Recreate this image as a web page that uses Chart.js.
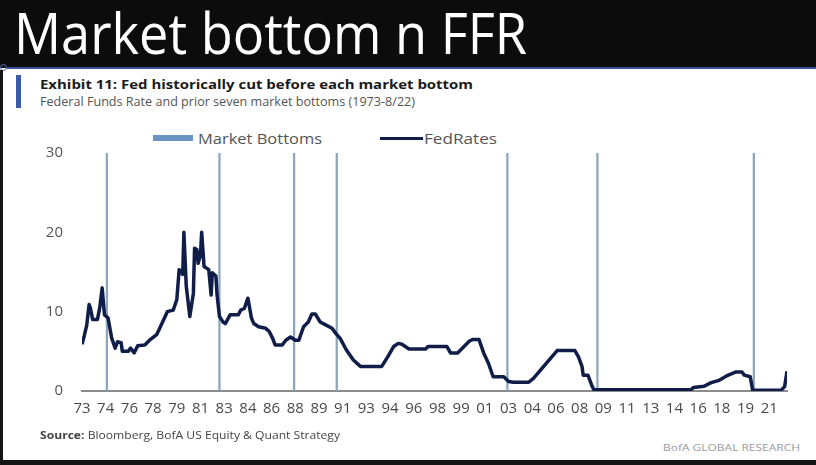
<!DOCTYPE html>
<html><head><meta charset="utf-8">
<script src="https://cdn.jsdelivr.net/npm/chart.js@4.4.1/dist/chart.umd.min.js"></script>
<style>
html,body{margin:0;padding:0;width:816px;height:465px;overflow:hidden;background:#fff;font-family:"Open Sans",sans-serif;}
.abs{position:absolute;white-space:nowrap;}
#header{left:0;top:0;width:816px;height:68px;background:#0c0c0c;}
#title{left:14px;top:-6px;color:#fff;font-size:57px;line-height:76px;transform-origin:0 0;}
#rule{left:6px;top:67px;width:810px;height:2px;background:#3b4f9e;}
#dot{left:0px;top:64px;width:5px;height:5px;border:1px solid #5a6cb0;border-radius:50%;}
#lborder{left:0;top:70px;width:3px;height:392px;background:#151515;}
#bborder{left:0;top:460px;width:816px;height:5px;background:#151515;}
#exbar{left:16px;top:75px;width:5px;height:33px;background:#3d5ba8;}
#ex1{left:40px;top:75px;font-size:13px;font-weight:700;color:#1a1a1a;line-height:18px;transform-origin:0 0;}
#ex2{left:40px;top:92px;font-size:13px;color:#555;line-height:18px;transform-origin:0 0;}
#lg1box{left:153px;top:135px;width:40px;height:6px;background:#6b93c3;}
#lg1txt{left:198px;top:128px;font-size:15px;color:#555;line-height:20px;transform-origin:0 0;}
#lg2line{left:380px;top:137px;width:43px;height:3px;background:#0f1d48;}
#lg2txt{left:424px;top:128px;font-size:15px;color:#555;line-height:20px;transform-origin:0 0;}
#chartwrap{left:0;top:110px;width:816px;height:320px;}
#source{left:40px;top:428px;font-size:10px;color:#444;line-height:15px;transform-origin:0 0;}
#bofa{left:663px;top:441px;font-size:9.5px;color:#9a9a9a;line-height:14px;transform-origin:0 0;}
</style></head>
<body>
<div id="header" class="abs"><div id="title" class="abs" data-w="513">Market bottom n FFR</div></div>
<div id="rule" class="abs"></div><div id="dot" class="abs"></div>
<div id="lborder" class="abs"></div><div id="bborder" class="abs"></div>
<div id="exbar" class="abs"></div>
<div id="ex1" class="abs" data-w="433">Exhibit 11: Fed historically cut before each market bottom</div>
<div id="ex2" class="abs" data-w="375">Federal Funds Rate and prior seven market bottoms (1973-8/22)</div>
<div id="lg1box" class="abs"></div><div id="lg1txt" class="abs" data-w="124">Market Bottoms</div>
<div id="lg2line" class="abs"></div><div id="lg2txt" class="abs" data-w="73">FedRates</div>
<div id="chartwrap" class="abs"><canvas id="c" width="816" height="320"></canvas></div>
<div id="source" class="abs" data-w="300"><b>Source:</b> Bloomberg, BofA US Equity &amp; Quant Strategy</div>
<div id="bofa" class="abs" data-w="137">BofA GLOBAL RESEARCH</div>
<script>
// ---- data ----
const startYear = 1973;
const endMonth = '2022-08';
const tickMonths = [0,20,40,60,80,100,120,140,160,180,200,220,240,260,280,300,320,340,360,380,400,420,440,460,480,500,520,540,560,580];
const tickLabels = ['73','74','76','78','79','81','83','84','86','88','89','91','93','94','96','98','99','01','03','04','06','08','09','11','13','14','16','18','19','21'];
const bottomDates = ['1974-10','1982-09','1987-12','1990-12','2002-12','2009-04','2020-04'];
const bottomHeights = [30,30,30,30,30,30,30];
const fedDates = ['1973-01','1973-03','1973-05','1973-07','1973-08','1973-10','1974-02','1974-04','1974-06','1974-08','1974-11',
 '1975-02','1975-05','1975-07','1975-10','1975-11','1976-04','1976-06','1976-09','1976-12','1977-06','1977-10','1978-04','1978-10',
 '1979-01','1979-06','1979-09','1979-11','1980-02','1980-03','1980-05','1980-08','1980-11','1980-12','1981-02','1981-03','1981-05',
 '1981-06','1981-08','1981-12','1982-02','1982-03','1982-06','1982-07','1982-09','1982-12',
 '1983-02','1983-06','1984-01','1984-03','1984-06','1984-09','1984-12','1985-02','1985-06','1985-12','1986-03','1986-06','1986-08',
 '1987-02','1987-05','1987-09','1988-01','1988-04','1988-08','1988-12','1989-03','1989-06','1989-10','1990-03','1990-08','1990-11',
 '1991-03','1991-08','1992-02','1992-08','1994-02','1994-07','1994-12','1995-04','1995-07','1996-01','1997-03','1997-05','1998-09',
 '1998-12','1999-06','2000-04','2000-07','2000-12','2001-04','2001-08','2001-12','2002-09','2003-01','2003-05','2004-06','2004-10',
 '2006-06','2007-09','2007-12','2008-03','2008-04','2008-08','2008-11','2009-01','2015-11','2016-01','2016-10','2017-04','2017-10','2018-05',
 '2019-01','2019-06','2019-08','2020-01','2020-03','2022-03','2022-06','2022-08'];
const fedRates = [5.9,7.0,8.3,10.9,10.5,9.0,9.0,10.5,13.0,9.6,9.2,
 6.7,5.4,6.2,6.1,5.0,5.0,5.4,4.8,5.7,5.8,6.4,7.1,9.0,
 10.0,10.2,11.5,15.3,14.7,20.0,13.2,9.4,12.3,18.0,17.8,16.1,17.2,
 20.0,15.7,15.3,12.1,14.9,14.5,12.1,9.4,8.7,
 8.5,9.6,9.6,10.2,10.4,11.7,9.2,8.5,8.1,7.9,7.5,6.6,5.8,
 5.8,6.4,6.8,6.4,6.4,8.1,8.7,9.7,9.7,8.7,8.3,7.9,7.3,
 6.6,5.2,3.9,3.1,3.1,4.3,5.6,6.0,5.9,5.3,5.3,5.6,5.6,
 4.8,4.8,6.3,6.5,6.5,4.8,3.5,1.8,1.8,1.2,1.1,1.1,1.6,
 5.1,5.1,4.3,3.1,2.0,2.0,0.8,0.15,0.15,0.45,0.6,1.05,1.3,1.9,
 2.4,2.4,2.0,1.8,0.1,0.1,0.55,2.5];

function monthIndex(s){ const [y,m] = s.split('-').map(Number); return (y-startYear)*12 + (m-1); }
const maxMonth = monthIndex(endMonth);

// fit text widths
document.querySelectorAll('[data-w]').forEach(el=>{
  const w = el.getBoundingClientRect().width;
  el.style.transform = 'scaleX(' + (parseFloat(el.dataset.w)/w) + ')';
});

const ctx = document.getElementById('c');
new Chart(ctx, {
  type: 'line',
  data: {
    datasets: [
      { type:'line', label:'FedRates', order:0,
        data: fedDates.map((d,i)=>({x:monthIndex(d), y:fedRates[i]})),
        borderColor:'#0f1d48', borderWidth:3.5, pointRadius:0, tension:0, fill:false, borderJoinStyle:'round' },
      { type:'bar', label:'Market Bottoms', order:1,
        data: bottomDates.map((d,i)=>({x:monthIndex(d), y:bottomHeights[i]})),
        backgroundColor:'#8ca6bd', barThickness:1.6 }
    ]
  },
  options: {
    responsive:false, animation:false, devicePixelRatio:1,
    layout:{ padding:{ left:40, right:29, top:43, bottom:4 } },
    plugins:{ legend:{display:false}, tooltip:{enabled:false} },
    scales:{
      x:{ type:'linear', min:0, max:maxMonth, offset:false,
          grid:{display:false, drawTicks:false},
          border:{display:true, color:'#8c8c8c', width:2},
          afterBuildTicks:(s)=>{ s.ticks = tickMonths.map(v=>({value:v})); },
          afterFit:(s)=>{ s.height = 35; },
          ticks:{ autoSkip:false, maxRotation:0, padding:9, color:'#4a4a4a',
                  font:{family:'Open Sans', size:15},
                  callback:(v)=>{ const i = tickMonths.indexOf(v); return i>=0 ? tickLabels[i] : ''; } } },
      y:{ min:0, max:30, grid:{display:false, drawTicks:false}, border:{display:false},
          afterFit:(s)=>{ s.width = 42; },
          ticks:{ stepSize:10, padding:19, color:'#555', font:{family:'Open Sans', size:15} } }
    }
  }
});
</script>
</body></html>
